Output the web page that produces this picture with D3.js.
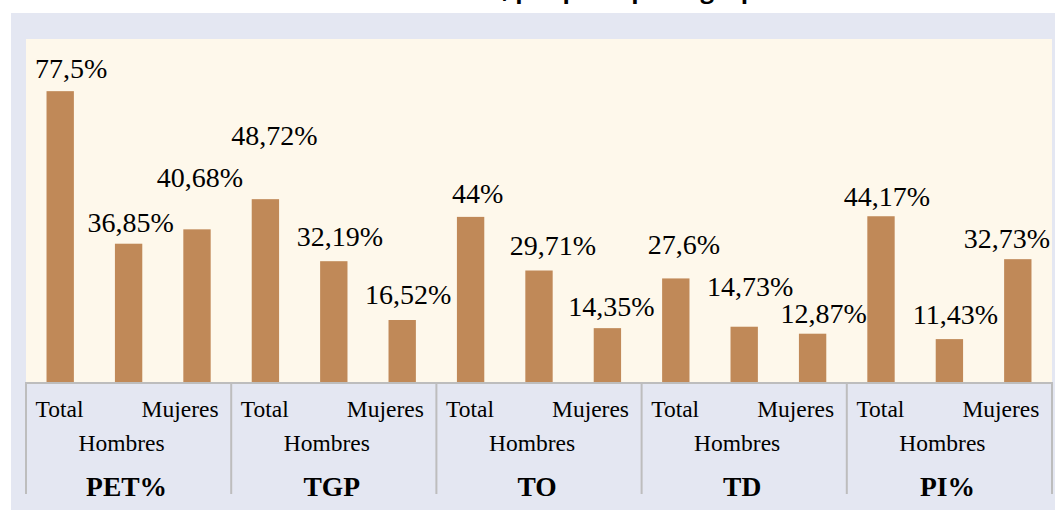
<!DOCTYPE html>
<html>
<head>
<meta charset="utf-8">
<script src="https://cdn.jsdelivr.net/npm/d3@7"></script>
<style>
  html, body { margin: 0; padding: 0; background: #ffffff; }
  svg { display: block; }
  .serif { font-family: "Liberation Serif", "Times New Roman", "DejaVu Serif", serif; }
  .title { font-family: "Open Sans", "Liberation Sans", sans-serif; font-weight: bold; }
</style>
</head>
<body>
<svg id="chart" width="1055" height="510"></svg>
<script>
// ---- data ----
const groups = ["PET%", "TGP", "TO", "TD", "PI%"];
const subcategories = ["Total", "Hombres", "Mujeres"];
const petValues = [77.5, 36.85, 40.68];
const tgpValues = [48.72, 32.19, 16.52];
const toValues  = [44, 29.71, 14.35];
const tdValues  = [27.6, 14.73, 12.87];
const piValues  = [44.17, 11.43, 32.73];
const seriesByGroup = [petValues, tgpValues, toValues, tdValues, piValues];

// ---- layout of value labels (offset from bar centre / bar top) ----
const labelDx = [11, 2, 3, 9, 6, 6, 7, 14, 4, 8, 6, 11, 6, 6, -11];
const labelDy = [-13, -12, -42, -54, -15, -16, -14, -16, -12, -24, -31, -11, -10, -15, -11];

const W = 1055, H = 510;
const plot = { left: 26, right: 1052, top: 39, bottom: 382 };
const axisY = 383, sepBottom = 494;

const colors = {
  bar: "#C08958",
  plotBg: "#FEF8EB",
  panel: "#E4E7F2",
  axis: "#BDBDBD",
  text: "#000000"
};

const items = [];
groups.forEach((g, gi) => {
  seriesByGroup[gi].forEach((v, si) => {
    items.push({ key: g + "|" + subcategories[si], group: g, sub: subcategories[si], value: v });
  });
});

const svg = d3.select("#chart");

// background panels
svg.append("rect").attr("x", 0).attr("y", 0).attr("width", W).attr("height", H).attr("fill", "#ffffff");
svg.append("rect").attr("x", 11).attr("y", 13).attr("width", W - 11).attr("height", H - 13).attr("fill", colors.panel);
svg.append("rect").attr("x", plot.left).attr("y", plot.top)
  .attr("width", plot.right - plot.left).attr("height", plot.bottom - plot.top)
  .attr("fill", colors.plotBg);

// clipped title (only descenders visible at the top edge, as in the reference)
svg.append("text")
  .attr("class", "title")
  .attr("x", 509).attr("y", -2)
  .attr("text-anchor", "end")
  .style("font-size", "24px")
  .text("Indicadores laborales,");
svg.append("text")
  .attr("class", "title")
  .attr("x", 509).attr("y", -2)
  .attr("text-anchor", "start")
  .style("font-size", "24px")
  .style("white-space", "pre")
  .text("\u00a0por principales grupos");

// scales
const x = d3.scaleBand()
  .domain(items.map(d => d.key))
  .range([plot.left, plot.right])
  .paddingInner(0.6)
  .paddingOuter(0.3);

const xGroup = d3.scaleBand()
  .domain(groups)
  .range([plot.left, plot.right])
  .padding(0);

const yMax = 91.4;
const y = d3.scaleLinear().domain([0, yMax]).range([plot.bottom, plot.top]);

// bars
svg.append("g").selectAll("rect")
  .data(items)
  .join("rect")
  .attr("x", d => x(d.key))
  .attr("y", d => y(d.value))
  .attr("width", x.bandwidth())
  .attr("height", d => y(0) - y(d.value))
  .attr("fill", colors.bar);

// value labels
const fmt = v => String(v).replace(".", ",") + "%";
svg.append("g").selectAll("text")
  .data(items)
  .join("text")
  .attr("class", "serif")
  .attr("x", (d, i) => x(d.key) + x.bandwidth() / 2 + labelDx[i])
  .attr("y", (d, i) => y(d.value) + labelDy[i])
  .attr("text-anchor", "middle")
  .style("font-size", "28px")
  .attr("fill", colors.text)
  .text(d => fmt(d.value));

// axis line
const axisG = svg.append("g");
axisG.append("line")
  .attr("x1", plot.left - 1).attr("x2", plot.right + 1)
  .attr("y1", axisY).attr("y2", axisY)
  .attr("stroke", colors.axis).attr("stroke-width", 2);

// group separators
const boundaries = groups.map(g => xGroup(g)).concat([xGroup(groups[groups.length - 1]) + xGroup.bandwidth()]);
axisG.selectAll("line.sep")
  .data(boundaries)
  .join("line")
  .attr("class", "sep")
  .attr("x1", d => d).attr("x2", d => d)
  .attr("y1", axisY).attr("y2", sepBottom)
  .attr("stroke", colors.axis).attr("stroke-width", 2);

// category labels
groups.forEach(g => {
  const c = xGroup(g) + xGroup.bandwidth() / 2;
  axisG.append("text")
    .attr("class", "serif")
    .attr("x", c - 93).attr("y", 417)
    .attr("text-anchor", "start")
    .style("font-size", "23.5px")
    .text(subcategories[0]);
  axisG.append("text")
    .attr("class", "serif")
    .attr("x", c + 90).attr("y", 417)
    .attr("text-anchor", "end")
    .style("font-size", "23.5px")
    .text(subcategories[2]);
  axisG.append("text")
    .attr("class", "serif")
    .attr("x", c - 7).attr("y", 451)
    .attr("text-anchor", "middle")
    .style("font-size", "23.5px")
    .text(subcategories[1]);
  axisG.append("text")
    .attr("class", "serif")
    .attr("x", c - 2).attr("y", 496)
    .attr("text-anchor", "middle")
    .style("font-size", "27.5px")
    .style("font-weight", "bold")
    .text(g);
});
</script>
</body>
</html>
